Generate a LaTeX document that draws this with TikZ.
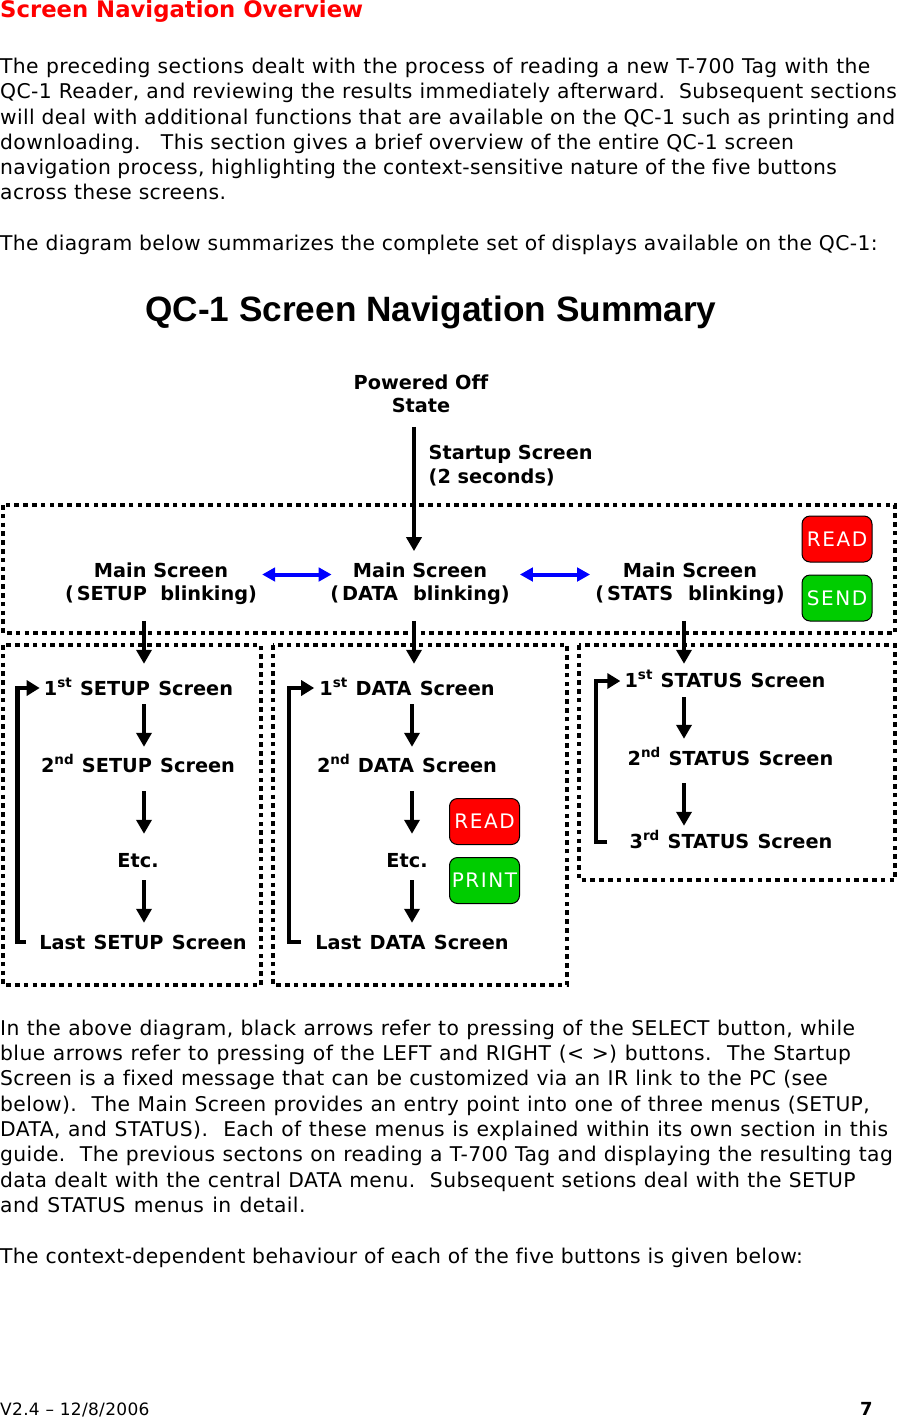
\documentclass[tikz,border=0pt]{standalone}
\usepackage{fontspec}
\setmainfont[Ligatures=NoCommon]{DejaVu Sans}
\newfontfamily\titlefont{Liberation Sans}
\newfontfamily\btnfont[LetterSpace=8]{DejaVu Sans}
\newfontfamily\bodyfont[LetterSpace=1.9,Ligatures=NoCommon]{DejaVu Sans}
\usetikzlibrary{arrows.meta,calc}
\definecolor{headred}{RGB}{255,0,0}
\definecolor{btnred}{RGB}{255,0,0}
\definecolor{btngreen}{RGB}{0,204,0}
\definecolor{bluearrow}{RGB}{0,0,255}
\newcommand{\sups}[1]{\raisebox{0.38em}{\fontsize{13.5}{14}\selectfont #1}}
\newcommand{\ws}[2]{{\spaceskip=\dimexpr\fontdimen2\font+#1pt\relax #2}}
\tikzset{
 x=1pt,y=-1pt,
 body/.style={anchor=base west,inner sep=0pt,font=\fontsize{20.3}{24}\selectfont\bodyfont},
 lbl/.style={inner sep=0pt,text height=15pt,text depth=5pt,anchor=base,font=\fontsize{19.3}{23.5}\selectfont\bfseries},
 multi/.style={inner sep=0pt,align=center,font=\fontsize{19.3}{23.5}\selectfont\bfseries},
 dotbox/.style={draw=black,line width=4pt,dash pattern=on 4.6pt off 4.2pt},
 arr/.style={draw=black,line width=4.8pt,-{Triangle[length=14pt,width=15pt]}},
 bluearr/.style={draw=bluearrow,line width=4pt,{Triangle[length=13pt,width=13.5pt]}-{Triangle[length=13pt,width=13.5pt]}},
 ret/.style={draw=black,line width=4.8pt,-{Triangle[length=13pt,width=15pt]},line join=miter},
 btn/.style={draw=black,line width=1pt,rounded corners=8pt,minimum width=70pt,minimum height=46pt,inner sep=0pt,text=white,font=\fontsize{20}{24}\selectfont\btnfont},
}
\begin{document}
\begin{tikzpicture}
\useasboundingbox (0,0) rectangle (898,1417);
% texts
\node[anchor=base west,inner sep=0pt,text=headred,font=\fontsize{22.75}{28}\selectfont\bfseries] (head) at (0,17) {Screen Navigation Overview};
\node[body] (p1) at (0,73) {\ws{0.53}{The preceding sections dealt with the process of reading a new T-700 Tag with the}};
\node[body] (p2) at (0,98) {\ws{0.2}{QC-1 Reader, and reviewing the results immediately afterward.\ \ Subsequent sections}};
\node[body] (p3) at (0,124) {will deal with additional functions that are available on the QC-1 such as printing and};
\node[body] (p4) at (0,149) {downloading.\ \ \ This section gives a brief overview of the entire QC-1 screen};
\node[body] (p5) at (0,174) {\ws{-0.3}{navigation process, highlighting the context-sensitive nature of the five buttons}};
\node[body] (p6) at (0,199) {across these screens.};
\node[body] (p7) at (0,250) {The diagram below summarizes the complete set of displays available on the QC-1:};
\node[anchor=base,inner sep=0pt,font=\fontsize{35.2}{40}\selectfont\titlefont\bfseries] (title) at (431,321) {QC-1 Screen Navigation Summary};
% boxes
\draw[dotbox] (3,505) rectangle (895,633);
\draw[dotbox] (3,645) rectangle (261,985);
\draw[dotbox] (273,645) rectangle (567,985);
\draw[dotbox] (579,645) rectangle (895,880);
% top labels
\node[multi,anchor=north] (off) at (421,374.5) {Powered Off\\State};
\node[multi,anchor=north west,align=left] (startup) at (428.5,445) {Startup Screen\\(2 seconds)};
\node[multi] (mSetup) at (161,583.5) {Main Screen\\(\hspace{3pt}SETUP\ \ blinking)};
\node[multi] (mData) at (420,583.5) {Main Screen\\(\hspace{3pt}DATA\ \ \hspace{1.5pt}blinking)};
\node[multi] (mStats) at (690,583.5) {Main Screen\\(\hspace{3pt}STATS\ \ \hspace{1.5pt}blinking)};
% SETUP
\node[lbl] (s1) at (138.5,695) {\ws{1.5}{1\sups{st} SETUP Screen}};
\node[lbl] (s2) at (138,772) {\ws{1.5}{2\sups{nd} SETUP Screen}};
\node[lbl] (s3) at (138,867) {Etc.};
\node[lbl] (s4) at (143,949) {\ws{1.5}{Last SETUP Screen}};
% DATA
\node[lbl] (d1) at (407,695) {\ws{1.5}{1\sups{st} DATA Screen}};
\node[lbl] (d2) at (407,772) {\ws{1.5}{2\sups{nd} DATA Screen}};
\node[lbl] (d3) at (407,867) {Etc.};
\node[lbl] (d4) at (412,949) {\ws{1.5}{Last DATA Screen}};
% STATUS
\node[lbl] (t1) at (725,687) {\ws{1.5}{1\sups{st} STATUS Screen}};
\node[lbl] (t2) at (730.5,765) {\ws{1.5}{2\sups{nd} STATUS Screen}};
\node[lbl] (t3) at (731,848) {\ws{1.5}{3\sups{rd} STATUS Screen}};
% buttons
\node[btn,fill=btnred] (b1) at (837,539) {READ};
\node[btn,fill=btngreen] (b2) at (837,598) {SEND};
\node[btn,fill=btnred] (b3) at (484.5,821.5) {READ};
\node[btn,fill=btngreen] (b4) at (484.5,880.5) {PRINT};
% anchors for rails
\coordinate (railS) at (17.5,0);
\coordinate (railD) at (289,0);
\coordinate (railT) at (596,0);
\coordinate (colS) at (144,0);
\coordinate (colD) at (412,0);
\coordinate (colM) at (414,0);
\coordinate (colT) at (684,0);
% black arrows
\draw[arr] ($(off.south -| colM)+(0,13.5)$) -- ($(mData.north -| colM)+(0,-11)$);
\draw[arr] ($(mSetup.south -| colS)+(0,16)$) -- ($(s1.north -| colS)+(0,-16)$);
\draw[arr] ($(mData.south -| colM)+(0,16)$) -- ($(d1.north -| colM)+(0,-16)$);
\draw[arr] ($(mStats.south -| colT)+(0,16)$) -- ($(t1.north -| colT)+(0,-8)$);
\foreach \a/\b/\u/\v in {s1/s2/4/-10,s2/s3/14/-18,s3/s4/8/-11}{
 \draw[arr] ($(\a.south -| colS)+(0,\u)$) -- ($(\b.north -| colS)+(0,\v)$);}
\foreach \a/\b/\u/\v in {d1/d2/4/-10,d2/d3/14/-18,d3/d4/8/-11}{
 \draw[arr] ($(\a.south -| colD)+(0,\u)$) -- ($(\b.north -| colD)+(0,\v)$);}
\foreach \a/\b/\u/\v in {t1/t2/5/-11,t2/t3/13/-7}{
 \draw[arr] ($(\a.south -| colT)+(0,\u)$) -- ($(\b.north -| colT)+(0,\v)$);}
% blue
\draw[bluearr] ($(mSetup.east)+(5,-9)$) -- ($(mData.west)+(1.5,-9)$);
\draw[bluearr] ($(mData.east)+(10,-9)$) -- ($(mStats.west)+(-5,-9)$);
% return brackets
\draw[ret] ($(s4.west)+(-13,-2)$) -- ($(s4.west -| railS)+(0,-2)$) -- ($(s1.west -| railS)+(0,-2)$) -- ($(s1.west)+(-4,-2)$);
\draw[ret] ($(d4.west)+(-14,-2)$) -- ($(d4.west -| railD)+(0,-2)$) -- ($(d1.west -| railD)+(0,-2)$) -- ($(d1.west)+(-5,-2)$);
\draw[ret] ($(t3.west)+(-22,-1)$) -- ($(t3.west -| railT)+(0,-1)$) -- ($(t1.west -| railT)+(0,-1)$) -- ($(t1.west)+(-4,-1)$);
% lower text
\node[body] (q1) at (0,1035) {\ws{0.6}{In the above diagram, black arrows refer to pressing of the SELECT button, while}};
\node[body] (q2) at (0,1060) {\ws{0.9}{blue arrows refer to pressing of the LEFT and RIGHT (< >) buttons.\ \ The Startup}};
\node[body] (q3) at (0,1085) {\ws{0.45}{Screen is a fixed message that can be customized via an IR link to the PC (see}};
\node[body] (q4) at (0,1111) {\ws{0.55}{below).\ \ The Main Screen provides an entry point into one of three menus (SETUP,}};
\node[body] (q5) at (0,1136) {\ws{0.8}{DATA, and STATUS).\ \ Each of these menus is explained within its own section in this}};
\node[body] (q6) at (0,1161) {\ws{0.47}{guide.\ \ The previous sectons on reading a T-700 Tag and displaying the resulting tag}};
\node[body] (q7) at (0,1187) {\ws{0.53}{data dealt with the central DATA menu.\ \ Subsequent setions deal with the SETUP}};
\node[body] (q8) at (0,1212) {\ws{1.5}{and STATUS menus in detail.}};
\node[body] (q9) at (0,1263) {The context-dependent behaviour of each of the five buttons is given below:};
\node[anchor=base west,inner sep=0pt,font=\fontsize{17}{20}\selectfont\bodyfont] (foot) at (0,1415) {V2.4 – 12/8/2006};
\node[anchor=base west,inner sep=0pt,font=\fontsize{18}{20}\selectfont\bfseries] (pg) at (860,1415) {7};
\end{tikzpicture}
\end{document}
